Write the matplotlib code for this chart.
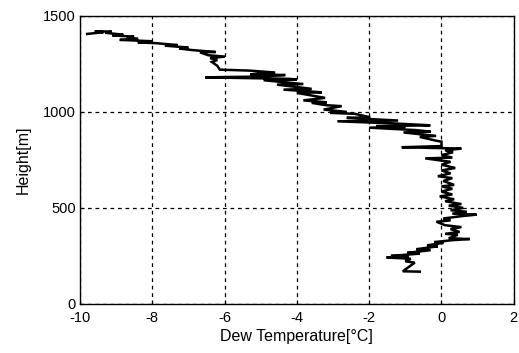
import matplotlib
matplotlib.use("Agg")
import matplotlib.pyplot as plt

plt.rcParams['font.family'] = ['Liberation Sans', 'DejaVu Sans']
plt.rcParams['axes.unicode_minus'] = False

# Dew temperature profile (traced from bottom to top)
dew_temp = [
    -0.60, -1.07, -0.74, -1.00, -0.85, -1.52, -0.90, -1.40, -0.60, -0.95,
    -0.30, -0.70, -0.10, -0.40, 0.05, -0.20, 0.30, 0.78, 0.20, 0.45,
    0.10, 0.50, 0.25, 0.55, 0.10, -0.14, 0.25, 0.05, 0.60, 0.97,
    0.30, 0.70, 0.25, 0.60, 0.20, 0.55, 0.10, 0.35, -0.05, 0.30,
    0.00, 0.30, 0.00, 0.35, 0.05, 0.30, -0.10, 0.25, 0.00, 0.38,
    0.00, 0.25, -0.45, 0.30, 0.00, 0.32, 0.10, 0.55, -1.10, 0.00,
    0.00, -0.15, -0.60, -0.15, -1.05, -0.30, -0.70, -2.00, -1.00, -1.80,
    -0.31, -1.30, -2.88, -1.20, -2.62, -1.97, -2.40, -3.08, -2.62, -3.26,
    -2.76, -3.20, -3.59, -3.17, -3.82, -3.22, -4.00, -3.31, -4.37, -3.59,
    -4.55, -3.82, -4.92, -4.00, -4.20, -6.54, -5.00, -4.32, -5.29, -4.60,
    -5.30, -6.13, -6.20, -6.35, -6.20, -6.40, -5.99, -6.45, -6.68, -6.25,
    -6.90, -7.25, -7.00, -7.65, -7.30, -7.90, -8.40, -8.00, -8.90, -8.39,
    -8.70, -8.50, -9.10, -8.80, -9.30, -9.12, -9.59, -9.35, -9.80,
]
height = [
    168, 170, 215, 222, 235, 242, 248, 250, 262, 266,
    280, 285, 300, 305, 318, 322, 332, 338, 342, 360,
    365, 375, 390, 400, 410, 428, 435, 445, 458, 465,
    470, 480, 488, 500, 512, 520, 535, 545, 560, 570,
    585, 600, 612, 620, 640, 655, 665, 680, 695, 708,
    725, 740, 758, 762, 775, 790, 800, 809, 816, 822,
    845, 850, 870, 875, 893, 897, 905, 918, 922, 926,
    930, 940, 951, 955, 969, 972, 990, 995, 1000, 1012,
    1030, 1035, 1047, 1050, 1060, 1073, 1099, 1102, 1116, 1120,
    1142, 1145, 1165, 1168, 1172, 1180, 1184, 1192, 1196, 1205,
    1215, 1220, 1240, 1260, 1270, 1280, 1288, 1295, 1310, 1312,
    1322, 1330, 1335, 1345, 1348, 1358, 1362, 1368, 1375, 1380,
    1385, 1392, 1398, 1402, 1412, 1418, 1420, 1415, 1406,
]

x_ticks = [-10, -8, -6, -4, -2, 0, 2]
y_ticks = [0, 500, 1000, 1500]

fig = plt.figure(figsize=(5.19, 3.53), dpi=100)
ax = fig.add_axes([0.154, 0.139, 0.836, 0.816])
ax.plot(dew_temp, height, color='black', linewidth=1.8, solid_joinstyle='miter')
ax.set_xlim(-10, 2)
ax.set_ylim(0, 1500)
ax.set_xticks(x_ticks)
ax.set_yticks(y_ticks)
ax.grid(True, color='black', linestyle=(0, (3, 3)), linewidth=0.9)
ax.tick_params(direction='in', length=3, labelsize=10.5, colors='black')
ax.tick_params(axis='x', pad=5)
ax.tick_params(axis='y', pad=3)
for s in ax.spines.values():
    s.set_linewidth(1.0)
    s.set_color('black')
ax.set_xlabel('Dew Temperature[°C]', fontsize=11.5, labelpad=3)
ax.set_ylabel('Height[m]', fontsize=11.5, labelpad=9)
fig.savefig('out.png', dpi=100)
